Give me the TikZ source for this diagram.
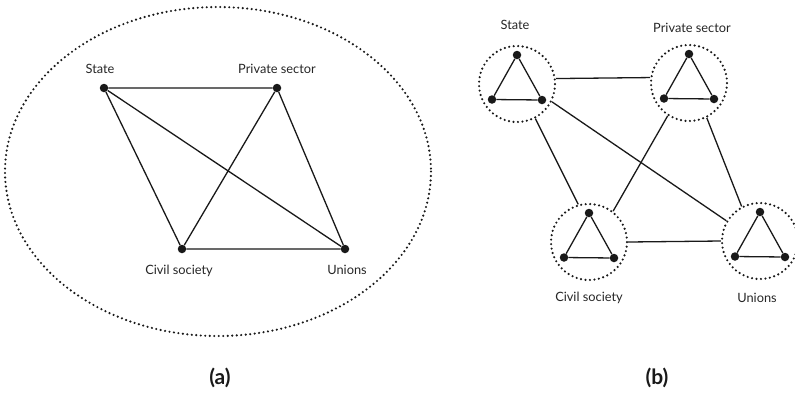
\documentclass[tikz,border=0pt]{standalone}
\usepackage{fontspec}
\setmainfont{Lato}
\begin{document}
\begin{tikzpicture}[x=1pt,y=-1pt,
  dot/.style={circle,fill=black!90,inner sep=0pt,minimum size=8.5pt},
  edge/.style={line width=1.3pt,black!90},
  dots/.style={line width=2.4pt,line cap=round,dash pattern=on 0pt off 4.5pt,black!90},
  ring/.style={circle,draw,dots,inner sep=0pt,minimum size=76pt},
  lbl/.style={font=\fontsize{12.8}{14}\selectfont,text=black!85,inner sep=0pt},
  paneltag/.style={font=\fontsize{21}{24}\selectfont\bfseries,text=black!90,inner sep=0pt}]
\useasboundingbox (0,0) rectangle (795,392);

% ---- (a): the four actors inside one shared field ----
\draw[dots] (218,171.5) ellipse [x radius=213, y radius=164.5];
\node[dot] (S1) at (104,88) {};
\node[dot] (P1) at (277,88) {};
\node[dot] (C1) at (182,249) {};
\node[dot] (U1) at (345,249) {};
\draw[edge] (S1) -- (P1) (S1) -- (C1) (S1) -- (U1)
            (P1) -- (C1) (P1) -- (U1) (C1) -- (U1);
\node[lbl] (tS1) at (100,69) {State};
\node[lbl] (tP1) at (277,69) {Private sector};
\node[lbl] (tC1) at (179,271) {Civil society};
\node[lbl] (tU1) at (347,270) {Unions};
\node[paneltag] (ca) at (220,378) {(a)};

% ---- (b): each actor is itself a small network ----
\foreach \n/\x/\y in {S2/517/84, P2/689/83, C2/589/242, U2/760/241}{
  \node[ring] (\n) at (\x,\y) {};
  \node[dot] (\n t) at (\x,\y-29) {};
  \node[dot] (\n l) at (\x-25,\y+15.5) {};
  \node[dot] (\n r) at (\x+25,\y+16) {};
  \draw[edge] (\n t) -- (\n l) -- (\n r) -- (\n t);
}
\draw[edge] (S2.8) -- (P2.172);
\draw[edge] (S2.-62) -- (C2.106);
\draw[edge] (S2.-27) -- (U2.149);
\draw[edge] (P2.-123) -- (C2.52);
\draw[edge] (P2.-63) -- (U2.118);
\draw[edge] (C2.east) -- (U2.west);
\node[lbl] (tS2) at (515,25) {State};
\node[lbl] (tP2) at (692,28) {Private sector};
\node[lbl] (tC2) at (589,298) {Civil society};
\node[lbl] (tU2) at (757,298) {Unions};
\node[paneltag] (cb) at (657,378) {(b)};
\end{tikzpicture}
\end{document}
